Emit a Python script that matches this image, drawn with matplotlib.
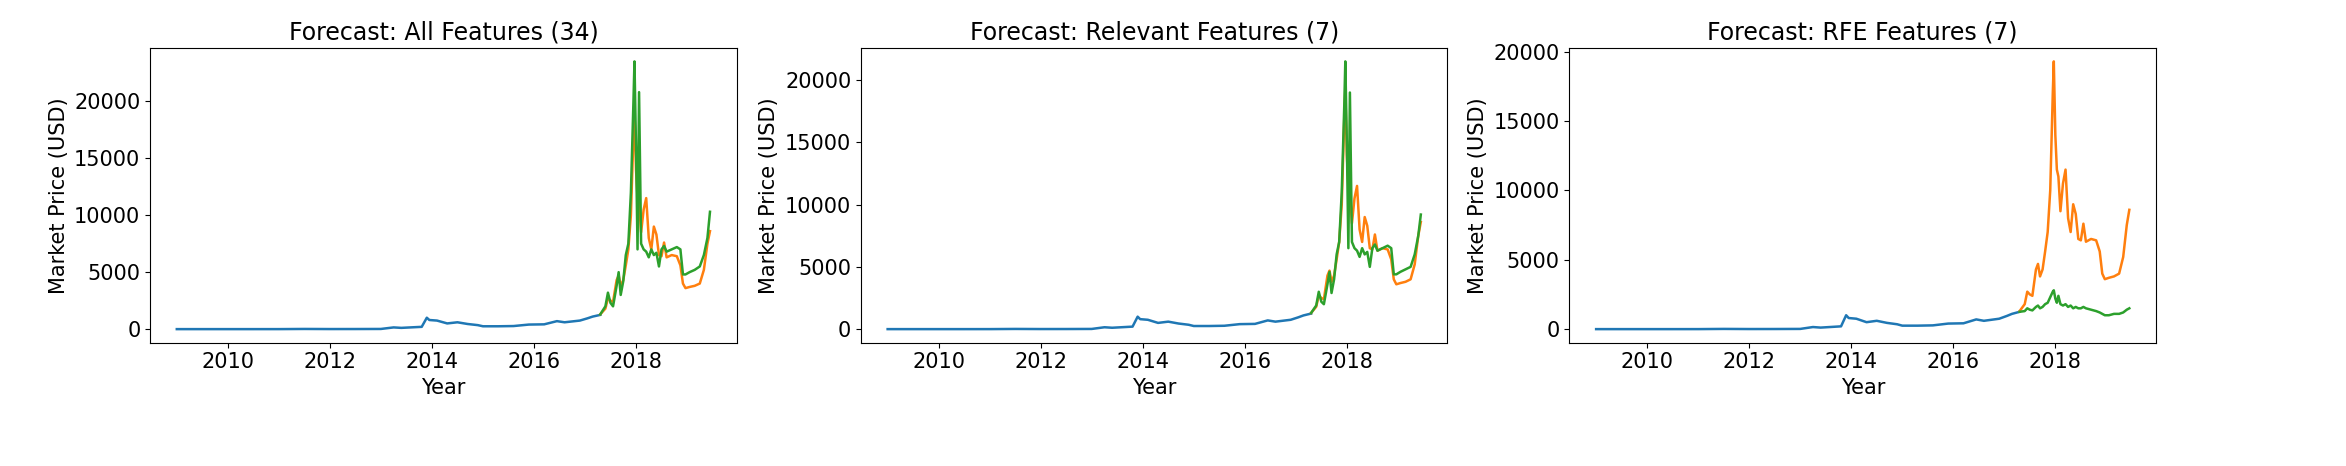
import numpy as np
import matplotlib.pyplot as plt

# history (blue), decimal years
hist_t = [2009.0, 2009.5, 2010.0, 2010.5, 2011.0, 2011.5, 2012.0, 2012.5, 2013.0, 2013.25, 2013.4,
          2013.8, 2013.9, 2013.95, 2014.1, 2014.3, 2014.5, 2014.7, 2014.9, 2015.0, 2015.3, 2015.6,
          2015.9, 2016.2, 2016.45, 2016.6, 2016.9, 2017.05, 2017.15, 2017.3]
hist_v = [0, 0, 0, 0, 1, 15, 6, 8, 15, 150, 110, 200, 1000, 800, 750, 500, 600, 450, 350, 250,
          250, 270, 400, 420, 700, 600, 750, 950, 1100, 1250]

# actual test prices (orange)
act_t = [2017.3, 2017.4, 2017.45, 2017.5, 2017.55, 2017.62, 2017.66, 2017.7, 2017.75, 2017.8,
         2017.85, 2017.9, 2017.95, 2017.97, 2018.0, 2018.03, 2018.06, 2018.1, 2018.15, 2018.2,
         2018.25, 2018.3, 2018.35, 2018.4, 2018.45, 2018.5, 2018.55, 2018.6, 2018.7, 2018.8,
         2018.87, 2018.92, 2018.97, 2019.05, 2019.15, 2019.25, 2019.33, 2019.4, 2019.45]
act_v = [1300, 1800, 2700, 2500, 2400, 4300, 4700, 3800, 4300, 5600, 7000, 10000, 17000, 19300,
         14000, 11500, 11000, 8500, 10500, 11500, 8000, 7000, 9000, 8300, 6500, 6400, 7600, 6300,
         6500, 6400, 5600, 4000, 3600, 3700, 3800, 4000, 5200, 7500, 8600]

# predictions (green)
pred_all = [1300, 2000, 3200, 2300, 2000, 3800, 5000, 3000, 4200, 6500, 7500, 12000, 20000,
            23500, 16000, 7000, 20800, 7500, 7000, 6800, 6300, 7000, 6500, 6700, 5500, 7000, 7300,
            6800, 7000, 7200, 7000, 4800, 4800, 5000, 5200, 5500, 6500, 8000, 10300]
pred_rel = [1300, 1900, 3000, 2200, 2000, 3600, 4600, 2900, 4000, 6000, 7000, 11000, 18000,
            21500, 15000, 6500, 19000, 7000, 6500, 6300, 5800, 6500, 6000, 6200, 5000, 6500, 6800,
            6300, 6500, 6700, 6500, 4400, 4400, 4600, 4800, 5000, 6000, 7500, 9200]
pred_rfe = [1250, 1300, 1500, 1400, 1350, 1600, 1700, 1500, 1600, 1800, 1900, 2300, 2700, 2800,
            2200, 1900, 2400, 1800, 1700, 1800, 1600, 1700, 1500, 1600, 1500, 1500, 1600, 1500,
            1400, 1300, 1200, 1100, 1000, 1000, 1100, 1100, 1200, 1400, 1500]

titles = ["Forecast: All Features (34)", "Forecast: Relevant Features (7)", "Forecast: RFE Features (7)"]
preds = [pred_all, pred_rel, pred_rfe]
lefts = [0.064, 0.367, 0.669]

fig = plt.figure(figsize=(23.46, 4.66), dpi=100)
for left, title, pred in zip(lefts, titles, preds):
    ax = fig.add_axes([left, 0.265, 0.25, 0.632])
    ax.plot(hist_t, hist_v, color='#1f77b4', lw=1.8)
    ax.plot(act_t, act_v, color='#ff7f0e', lw=1.8)
    ax.plot(act_t, pred, color='#2ca02c', lw=1.8)
    ax.set_xticks([2010, 2012, 2014, 2016, 2018])
    ax.set_title(title, fontsize=17)
    ax.set_xlabel("Year", fontsize=15)
    ax.set_ylabel("Market Price (USD)", fontsize=15)
    ax.tick_params(labelsize=15)

fig.savefig("out.png", dpi=100)
